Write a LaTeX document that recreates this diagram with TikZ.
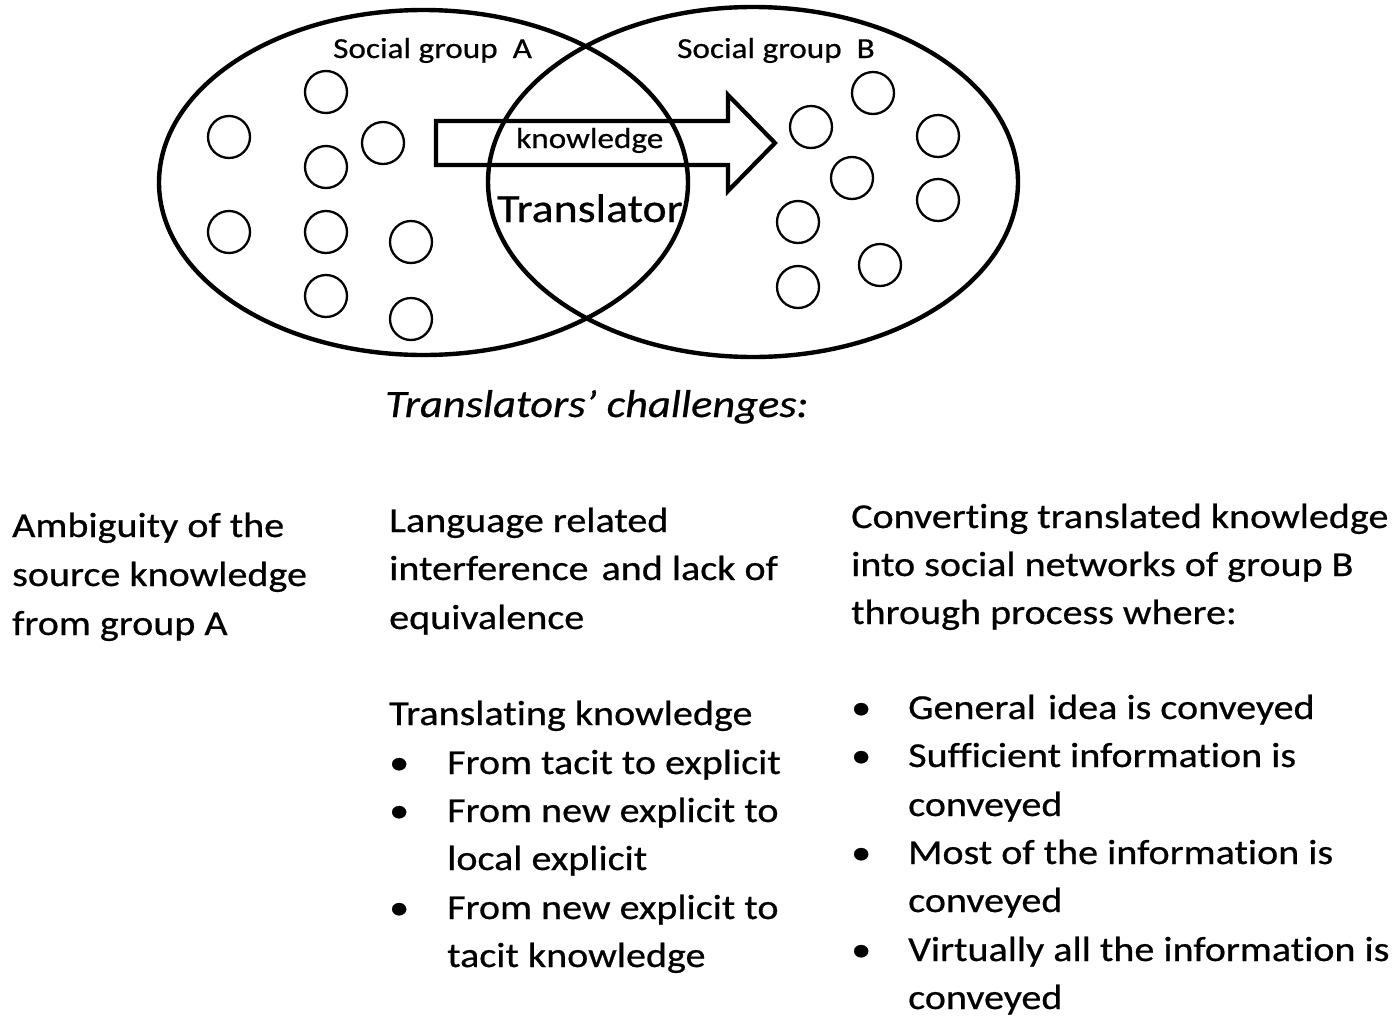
\documentclass[tikz,border=0pt]{standalone}
\usepackage{fontspec}
\setmainfont{Carlito}[FakeStretch=1.145, FakeBold=0.6, Ligatures=NoCommon]
\usetikzlibrary{shapes.geometric}
\tikzset{
  grp/.style={ellipse, draw, line width=4.4pt, inner sep=0pt},
  dot/.style={circle, draw, line width=2.3pt, minimum size=42pt, inner sep=0pt},
  txt/.style={anchor=base west, inner sep=0pt, font=\fontsize{35}{42}\selectfont},
  lbl/.style={anchor=base west, inner sep=0pt, font=\fontsize{29}{35}\selectfont},
}
\begin{document}
\begin{tikzpicture}[x=1pt,y=-1pt]
\useasboundingbox (0,0) rectangle (1398,1023);
\fill[white] (0,0) rectangle (1398,1023);
% social groups
\node[grp, minimum width=529pt, minimum height=345pt] (gA) at (423.5,182.5) {};
\node[grp, minimum width=530pt, minimum height=350pt] (gB) at (753,182) {};
% members of group A
\node[dot] (a1) at (229,137) {};
\node[dot] (a2) at (326,92) {};
\node[dot] (a3) at (383,143) {};
\node[dot] (a4) at (326,167) {};
\node[dot] (a5) at (229,232) {};
\node[dot] (a6) at (326,232) {};
\node[dot] (a7) at (411,242) {};
\node[dot] (a8) at (326,296) {};
\node[dot] (a9) at (411,319) {};
% members of group B
\node[dot] (b1) at (811,127) {};
\node[dot] (b2) at (873,93) {};
\node[dot] (b3) at (938,136) {};
\node[dot] (b4) at (852,178) {};
\node[dot] (b5) at (938,200) {};
\node[dot] (b6) at (798,222) {};
\node[dot] (b7) at (880,265) {};
\node[dot] (b8) at (798,287) {};
% knowledge arrow
\coordinate (k1) at (436,121);
\coordinate (k2) at (728,121);
\coordinate (k3) at (728,95);
\coordinate (k4) at (775,143);
\coordinate (k5) at (728,191);
\coordinate (k6) at (728,165);
\coordinate (k7) at (436,165);
\draw[line width=4.2pt, line join=miter] (k1) -- (k2) -- (k3) -- (k4) -- (k5) -- (k6) -- (k7) -- cycle;
% labels
\node[lbl] (tA) at (333,58) {Social group\ \ A};
\node[lbl] (tB) at (677,58) {Social group\ \ B};
\node[lbl] (tk) at (516,148) {knowledge};
\node[anchor=base west, inner sep=0pt, font=\fontsize{40}{46}\selectfont] (tt) at (497,222) {Translator};
\node[anchor=base west, inner sep=0pt, font=\fontsize{38.8}{46}\selectfont\itshape] (head) at (385,417) {Translators’ challenges:};
% left column
\node[txt] (l1) at (12,537) {Ambiguity of the};
\node[txt] (l2) at (12,586) {source knowledge};
\node[txt] (l3) at (12,635) {from group A};
% middle column
\node[txt] (m1) at (389,532) {Language related};
\node[txt] (m2) at (389,580) {interference\hspace{4pt} and lack of};
\node[txt] (m3) at (389,629) {equivalence};
\node[txt] (m4) at (389,725) {Translating knowledge};
\node[txt] (mb1) at (389,774) {•};
\node[txt] (m5) at (447,774) {From tacit to explicit};
\node[txt] (mb2) at (389,822) {•};
\node[txt] (m6) at (447,822) {From new explicit to};
\node[txt] (m7) at (447,870) {local explicit};
\node[txt] (mb3) at (389,919) {•};
\node[txt] (m8) at (447,919) {From new explicit to};
\node[txt] (m9) at (447,967) {tacit knowledge};
% right column
\node[txt] (r1) at (851,528) {Converting translated knowledge};
\node[txt] (r2) at (851,576) {into social networks of group B};
\node[txt] (r3) at (851,624) {through process where:};
\node[txt] (rb1) at (851,719) {•};
\node[txt] (r4) at (908,719) {General\hspace{3pt} idea is conveyed};
\node[txt] (rb2) at (851,767) {•};
\node[txt] (r5) at (908,767) {Sufficient information is};
\node[txt] (r6) at (908,816) {conveyed};
\node[txt] (rb3) at (851,864) {•};
\node[txt] (r7) at (908,864) {Most of the information is};
\node[txt] (r8) at (908,912) {conveyed};
\node[txt] (rb4) at (851,961) {•};
\node[txt] (r9) at (908,961) {Virtually all the information is};
\node[txt] (r10) at (908,1009) {conveyed};
\end{tikzpicture}
\end{document}
